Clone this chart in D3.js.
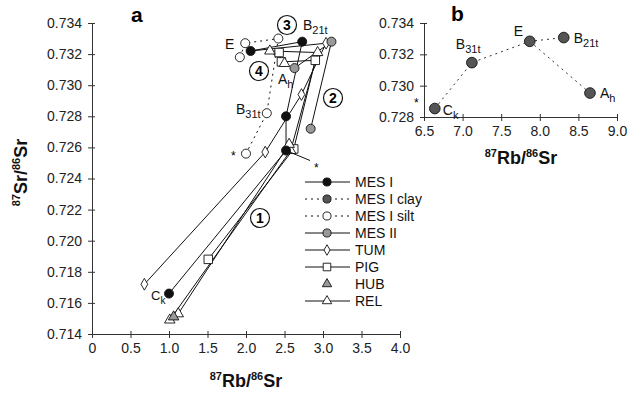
<!DOCTYPE html>
<html>
<head>
<meta charset="utf-8">
<script src="https://cdn.jsdelivr.net/npm/d3@7"></script>
<style>
  body { margin: 0; background: #fff; }
  svg { font-family: "Liberation Sans", Arial, sans-serif; }
</style>
</head>
<body>
<svg id="chart" width="627" height="393"></svg>
<script>
// main panel (a): [Rb/Sr, Sr/Sr] per profile, in drawing order
const mesI = [[2.06, 0.7322], [2.73, 0.7328], [2.52, 0.7280], [2.52, 0.7258], [1.00, 0.7166]];
const mesIsilt = [[1.92, 0.7318], [1.99, 0.7327], [2.42, 0.7330], [2.27, 0.7282], [2.00, 0.7256]];
const mesII = [[2.63, 0.7311], [3.11, 0.7328], [2.84, 0.7272]];
const tum = [[0.68, 0.7172], [2.25, 0.7257], [2.72, 0.7294], [3.04, 0.7327], [2.06, 0.7322]];
const pig = [[1.51, 0.7188], [2.62, 0.7259], [2.90, 0.7316], [2.46, 0.7315], [2.43, 0.7321]];
const hub = [[1.06, 0.7151]];
const rel = [[1.01, 0.7149], [2.58, 0.7258], [2.93, 0.7321], [2.31, 0.7322], [2.50, 0.7314]];
const relB = [[1.12, 0.7153], [2.56, 0.7262]];

// inset (b): MES I clay
const clayHorizons = ['Ck', 'B31t', 'E', 'B21t', 'Ah'];
const clayRb = [6.64, 7.12, 7.87, 8.31, 8.65];
const claySr = [0.72854, 0.73147, 0.73283, 0.73307, 0.72953];

const xTicksA = [0, 0.5, 1, 1.5, 2, 2.5, 3, 3.5, 4];
const yTicksA = [0.714, 0.716, 0.718, 0.720, 0.722, 0.724, 0.726, 0.728, 0.730, 0.732, 0.734];
const xTicksB = [6.5, 7, 7.5, 8, 8.5, 9];
const yTicksB = [0.728, 0.730, 0.732, 0.734];

const legendItems = ['MES I', 'MES I clay', 'MES I silt', 'MES II', 'TUM', 'PIG', 'HUB', 'REL'];

const svg = d3.select('#chart');
const axisColor = '#333';

const x = d3.scaleLinear().domain([0, 4]).range([92, 400]);
const y = d3.scaleLinear().domain([0.714, 0.734]).range([334, 23]);
const xb = d3.scaleLinear().domain([6.5, 9]).range([424, 617]);
const yb = d3.scaleLinear().domain([0.728, 0.734]).range([117, 23]);

function styleAxis(g, horizontal) {
  g.select('.domain').attr('stroke', axisColor);
  g.selectAll('.tick line').attr('stroke', axisColor)
    .attr(horizontal ? 'y1' : 'x1', horizontal ? -3 : 3);
  g.selectAll('.tick text').attr('fill', '#222').style('font-size', '14px');
}

// axes panel a
svg.append('g')
  .attr('transform', `translate(0,${y(0.714)})`)
  .call(d3.axisBottom(x).tickValues(xTicksA).tickSize(4).tickPadding(5).tickSizeOuter(0)
    .tickFormat(d => d === 0 ? '0' : d3.format('.1f')(d)))
  .call(g => styleAxis(g, true));

svg.append('g')
  .attr('transform', `translate(${x(0)},0)`)
  .call(d3.axisLeft(y).tickValues(yTicksA).tickSize(4).tickPadding(6).tickSizeOuter(0)
    .tickFormat(d3.format('.3f')))
  .call(g => styleAxis(g, false));

// axes panel b
svg.append('g')
  .attr('transform', `translate(0,${yb(0.728)})`)
  .call(d3.axisBottom(xb).tickValues(xTicksB).tickSize(4).tickPadding(5).tickSizeOuter(0)
    .tickFormat(d3.format('.1f')))
  .call(g => styleAxis(g, true));

svg.append('g')
  .attr('transform', `translate(${xb(6.5)},0)`)
  .call(d3.axisLeft(yb).tickValues(yTicksB).tickSize(4).tickPadding(6).tickSizeOuter(0)
    .tickFormat(d3.format('.3f')))
  .call(g => styleAxis(g, false));

// axis titles with superscripts (shift in px so tspans with different sizes line up)
function isoTitle(parent, a, b, size) {
  const up = Math.round(size * 0.4);
  const t = parent.append('text').attr('text-anchor', 'middle')
    .attr('font-weight', 'bold').style('font-size', size + 'px').attr('fill', '#111');
  t.append('tspan').attr('dy', -up).style('font-size', Math.round(size * 0.62) + 'px').text('87');
  t.append('tspan').attr('dy', up).text(a + '/');
  t.append('tspan').attr('dy', -up).style('font-size', Math.round(size * 0.62) + 'px').text('86');
  t.append('tspan').attr('dy', up).text(b);
  return t;
}
isoTitle(svg, 'Rb', 'Sr', 18).attr('x', 246).attr('y', 387);
isoTitle(svg, 'Rb', 'Sr', 18).attr('x', 521).attr('y', 164);
isoTitle(svg, 'Sr', 'Sr', 18).attr('transform', `translate(27,${(y(0.714) + y(0.734)) / 2 - 6}) rotate(-90)`);

svg.append('text').attr('x', 131).attr('y', 22).attr('font-weight', 'bold')
  .style('font-size', '21px').text('a');
svg.append('text').attr('x', 451).attr('y', 21).attr('font-weight', 'bold')
  .style('font-size', '21px').text('b');

// marker shapes
const styles = {
  'MES I':      { shape: 'circle', fill: '#111', dash: null, line: true },
  'MES I clay': { shape: 'circle', fill: '#555', dash: '2,4', line: true },
  'MES I silt': { shape: 'circle', fill: '#fff', dash: '2,4', line: true },
  'MES II':     { shape: 'circle', fill: '#999', dash: null, line: true },
  'TUM':        { shape: 'diamond', fill: '#fff', dash: null, line: true },
  'PIG':        { shape: 'square', fill: '#fff', dash: null, line: true },
  'HUB':        { shape: 'triangle', fill: '#999', dash: null, line: false },
  'REL':        { shape: 'triangle', fill: '#fff', dash: null, line: true }
};
const symbolTypes = {
  circle: d3.symbolCircle, square: d3.symbolSquare,
  triangle: d3.symbolTriangle, diamond: d3.symbolDiamond
};
const symbolSizes = { circle: 64, square: 72, triangle: 48, diamond: 40 };

function drawMarkers(g, pts, st, px, py, scale) {
  const sym = d3.symbol().type(symbolTypes[st.shape]).size(symbolSizes[st.shape] * (scale || 1));
  g.selectAll(null).data(pts).enter().append('path')
    .attr('d', sym)
    .attr('transform', d => `translate(${px(d[0])},${py(d[1])})`)
    .attr('fill', st.fill).attr('stroke', '#111').attr('stroke-width', 0.9);
}

function drawSeries(pts, name) {
  const st = styles[name];
  const g = svg.append('g');
  if (st.line && pts.length > 1) {
    g.append('path').datum(pts)
      .attr('d', d3.line().x(d => x(d[0])).y(d => y(d[1])))
      .attr('fill', 'none').attr('stroke', '#111').attr('stroke-width', 1)
      .attr('stroke-dasharray', st.dash);
  }
  return g;
}

const series = [
  [mesIsilt, 'MES I silt'], [tum, 'TUM'], [pig, 'PIG'], [rel, 'REL'], [relB, 'REL'],
  [mesII, 'MES II'], [mesI, 'MES I'], [hub, 'HUB']
];
series.forEach(([pts, name]) => drawSeries(pts, name));
// TUM's last vertex sits under the MES I "E" point, so its marker is left out
series.forEach(([pts, name]) => {
  const shown = name === 'TUM' ? pts.slice(0, -1) : pts;
  drawMarkers(svg.append('g'), shown, styles[name], x, y);
});

// leader line for the starred sample
svg.append('line').attr('x1', x(mesI[3][0])).attr('y1', y(mesI[3][1]))
  .attr('x2', x(mesI[3][0]) + 24).attr('y2', y(mesI[3][1]) + 10).attr('stroke', '#111');

// annotations panel a
function sublabel(px, py, main, sub, size) {
  const t = svg.append('text').attr('x', px).attr('y', py).style('font-size', size + 'px').attr('fill', '#111');
  t.append('tspan').text(main);
  if (sub) t.append('tspan').attr('dy', Math.round(size * 0.3)).style('font-size', Math.round(size * 0.75) + 'px').text(sub);
  return t;
}
sublabel(303, 30, 'B', '21t', 14);
sublabel(225, 49, 'E', null, 14);
sublabel(278, 84, 'A', 'h', 14);
sublabel(236, 114, 'B', '31t', 14);
sublabel(151, 300, 'C', 'k', 13);
svg.append('text').attr('x', 231).attr('y', 160).style('font-size', '12px').text('*');
svg.append('text').attr('x', 314).attr('y', 172).style('font-size', '12px').text('*');

const circled = [['1', 260, 218], ['2', 333, 98], ['3', 287, 25], ['4', 259, 71]];
circled.forEach(([n, cx, cy]) => {
  svg.append('circle').attr('cx', cx).attr('cy', cy).attr('r', 9.5)
    .attr('fill', '#fff').attr('stroke', '#111').attr('stroke-width', 1.2);
  svg.append('text').attr('x', cx).attr('y', cy + 5).attr('text-anchor', 'middle')
    .attr('font-weight', 'bold').style('font-size', '14px').text(n);
});

// inset b series
const clayPts = clayRb.map((v, i) => [v, claySr[i]]);
const clayLine = d3.line().x(d => xb(d[0])).y(d => yb(d[1]));
svg.append('path').datum(clayPts.slice(0, 4)).attr('d', clayLine)
  .attr('fill', 'none').attr('stroke', '#333').attr('stroke-dasharray', '2,4');
svg.append('path').datum([clayPts[2], clayPts[4]]).attr('d', clayLine)
  .attr('fill', 'none').attr('stroke', '#333').attr('stroke-dasharray', '2,4');
drawMarkers(svg.append('g'), clayPts, styles['MES I clay'], xb, yb, 1.4);

const clayLabelPos = { Ck: [8, 6], B31t: [-16, -14], E: [-16, -5], B21t: [10, 5], Ah: [10, 5] };
clayPts.forEach((p, i) => {
  const h = clayHorizons[i];
  const off = clayLabelPos[h];
  sublabel(xb(p[0]) + off[0], yb(p[1]) + off[1], h[0], h.slice(1), 14);
});
svg.append('text').attr('x', 414).attr('y', 107).style('font-size', '12px').text('*');

// legend
const legend = svg.append('g').attr('transform', 'translate(305,182)');
legendItems.forEach((name, i) => {
  const st = styles[name];
  const row = legend.append('g').attr('transform', `translate(0,${i * 17})`);
  if (st.line) {
    row.append('line').attr('x1', 0).attr('x2', 45).attr('stroke', '#111')
      .attr('stroke-dasharray', st.dash);
  }
  drawMarkers(row, [[0, 0]], st, () => 22, () => 0, 0.8);
  row.append('text').attr('x', 50).attr('y', 5).style('font-size', '14px').attr('fill', '#111').text(name);
});
</script>
</body>
</html>
